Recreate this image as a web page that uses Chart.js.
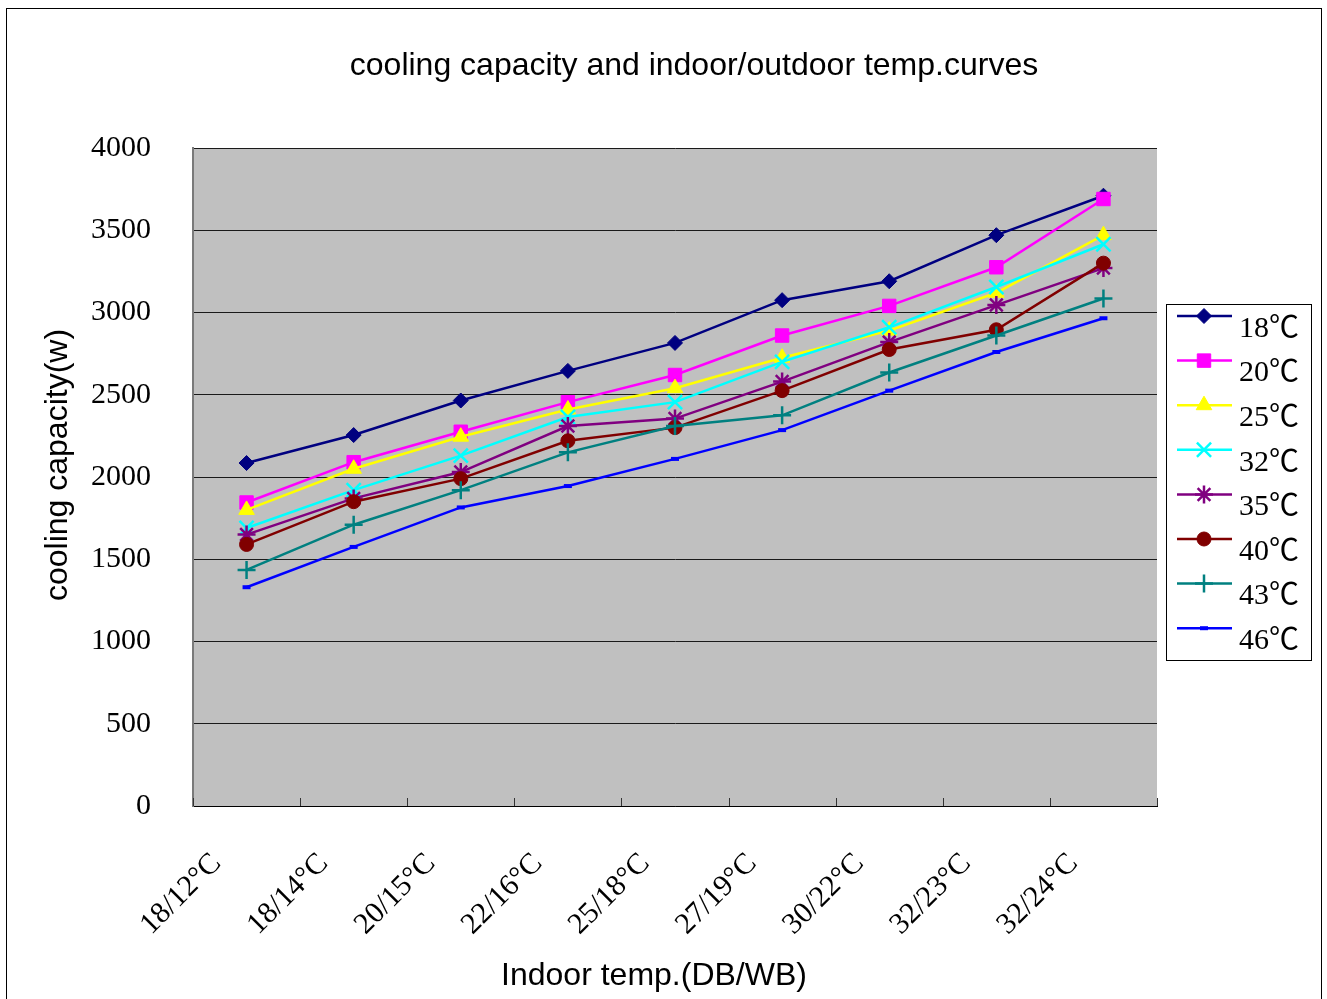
<!DOCTYPE html>
<html>
<head>
<meta charset="utf-8">
<script src="https://cdn.jsdelivr.net/npm/chart.js@4/dist/chart.umd.min.js"></script>
<style>
  html, body { margin: 0; padding: 0; background: #fff; }
  #c { display: block; }
</style>
</head>
<body>
<canvas id="c" width="1327" height="999"></canvas>
<script>
// ---- data ----
const chartTitle = 'cooling capacity and indoor/outdoor temp.curves';
const xAxisTitle = 'Indoor temp.(DB/WB)';
const yAxisTitle = 'cooling capacity(w)';
const categories = ['18/12°C', '18/14°C', '20/15°C', '22/16°C', '25/18°C', '27/19°C', '30/22°C', '32/23°C', '32/24°C'];
const seriesNames = ['18℃', '20℃', '25℃', '32℃', '35℃', '40℃', '43℃', '46℃'];
const out18 = [2085, 2255, 2465, 2645, 2815, 3075, 3190, 3470, 3710];
const out20 = [1845, 2090, 2275, 2455, 2620, 2860, 3040, 3275, 3690];
const out25 = [1800, 2050, 2245, 2410, 2540, 2725, 2890, 3120, 3470];
const out32 = [1690, 1920, 2130, 2365, 2455, 2700, 2910, 3155, 3415];
const out35 = [1650, 1870, 2030, 2310, 2355, 2580, 2820, 3045, 3270];
const out40 = [1590, 1850, 1990, 2220, 2300, 2525, 2775, 2895, 3300];
const out43 = [1435, 1710, 1920, 2150, 2310, 2375, 2635, 2860, 3085];
const out46 = [1330, 1575, 1815, 1945, 2110, 2285, 2525, 2760, 2965];
const yTicks = [0, 500, 1000, 1500, 2000, 2500, 3000, 3500, 4000];
const seriesValues = [out18, out20, out25, out32, out35, out40, out43, out46];

// ---- styles ----
const colors = ['#000080', '#FF00FF', '#FFFF00', '#00FFFF', '#800080', '#800000', '#008080', '#0000FF'];
const markers = [
  { style: 'rectRot', radius: 7.5, bw: 1, fill: true },
  { style: 'rect', radius: 9.5, bw: 1, fill: true },
  { style: 'triangle', radius: 9, bw: 1, fill: true },
  { style: 'crossRot', radius: 10, bw: 2.5, fill: false },
  { style: 'star', radius: 9, bw: 2.5, fill: false },
  { style: 'circle', radius: 7, bw: 1, fill: true },
  { style: 'cross', radius: 9, bw: 2.5, fill: false },
  { style: 'line', radius: 4, bw: 4, fill: false }
];
const serifFont = '"Liberation Serif", "Times New Roman", "Noto Sans CJK SC", serif';
const sansFont = '"Liberation Sans", Arial, sans-serif';

const datasets = seriesValues.map((vals, i) => ({
  label: seriesNames[i],
  data: vals,
  borderColor: colors[i],
  backgroundColor: colors[i],
  borderWidth: 2.5,
  tension: 0,
  fill: false,
  order: -i,
  pointStyle: markers[i].style,
  pointRadius: markers[i].radius,
  pointHoverRadius: markers[i].radius,
  pointBorderWidth: markers[i].bw,
  pointBackgroundColor: colors[i],
  pointBorderColor: colors[i]
}));

const decorPlugin = {
  id: 'decor',
  beforeDraw(chart) {
    const ctx = chart.ctx;
    const a = chart.chartArea;
    ctx.save();
    ctx.fillStyle = '#ffffff';
    ctx.fillRect(0, 0, chart.width, chart.height);
    ctx.strokeStyle = '#000000';
    ctx.lineWidth = 1;
    ctx.strokeRect(6.5, 8.5, 1315, 1010);
    ctx.fillStyle = '#C0C0C0';
    ctx.fillRect(a.left, a.top, a.right - a.left, a.bottom - a.top);
    ctx.restore();
  },
  afterDraw(chart) {
    const ctx = chart.ctx;
    const a = chart.chartArea;
    const xs = chart.scales.x;
    ctx.save();
    // inward tick marks at category boundaries
    ctx.strokeStyle = '#333333';
    ctx.lineWidth = 1;
    for (let i = 0; i <= categories.length; i++) {
      const px = Math.round(xs.getPixelForValue(i - 0.5)) + 0.5;
      ctx.beginPath();
      ctx.moveTo(px, a.bottom);
      ctx.lineTo(px, a.bottom - 8);
      ctx.stroke();
    }
    // titles
    ctx.fillStyle = '#000000';
    ctx.font = '32px ' + sansFont;
    ctx.textAlign = 'center';
    ctx.textBaseline = 'middle';
    ctx.fillText(chartTitle, 694, 66);
    ctx.fillText(xAxisTitle, 654, 976);
    ctx.save();
    ctx.translate(58, 465);
    ctx.rotate(-Math.PI / 2);
    ctx.fillText(yAxisTitle, 0, 0);
    ctx.restore();
    // legend
    const lx = 1166.5, ly = 304.5, lw = 145, lh = 356;
    ctx.fillStyle = '#ffffff';
    ctx.fillRect(lx, ly, lw, lh);
    ctx.strokeStyle = '#000000';
    ctx.lineWidth = 1;
    ctx.strokeRect(lx, ly, lw, lh);
    const step = 44.6;
    chart.data.datasets.forEach((ds, i) => {
      const y = 316 + i * step;
      ctx.strokeStyle = ds.borderColor;
      ctx.lineWidth = 2.5;
      ctx.beginPath();
      ctx.moveTo(1177, y);
      ctx.lineTo(1232, y);
      ctx.stroke();
      ctx.fillStyle = ds.pointBackgroundColor;
      ctx.strokeStyle = ds.pointBorderColor;
      ctx.lineWidth = ds.pointBorderWidth;
      Chart.helpers.drawPoint(ctx, {
        pointStyle: ds.pointStyle,
        radius: ds.pointRadius,
        borderWidth: ds.pointBorderWidth,
        rotation: 0
      }, 1204, y);
      ctx.fillStyle = '#000000';
      ctx.font = '30px ' + serifFont;
      ctx.textAlign = 'left';
      ctx.textBaseline = 'middle';
      ctx.fillText(ds.label, 1239, y + 13);
    });
    ctx.restore();
  }
};

new Chart(document.getElementById('c'), {
  type: 'line',
  data: { labels: categories, datasets: datasets },
  options: {
    responsive: false,
    animation: false,
    devicePixelRatio: 1,
    layout: { padding: { top: 148, left: 0, right: 170, bottom: 0 } },
    plugins: {
      legend: { display: false },
      title: { display: false },
      tooltip: { enabled: false }
    },
    scales: {
      x: {
        type: 'category',
        offset: true,
        grid: { display: false, drawTicks: false },
        border: { display: true, color: '#000000', width: 1 },
        ticks: {
          autoSkip: false,
          maxRotation: 45,
          minRotation: 45,
          padding: 40,
          labelOffset: -30,
          color: '#000000',
          font: { family: serifFont, size: 30 }
        },
        afterFit(scale) { scale.height = 193; }
      },
      y: {
        min: 0,
        max: 4000,
        afterBuildTicks(scale) { scale.ticks = yTicks.map(v => ({ value: v })); },
        grid: { color: '#1a1a1a', lineWidth: 1, drawTicks: false },
        border: { display: true, color: '#7a7a7a', width: 2 },
        ticks: {
          padding: 42,
          color: '#000000',
          font: { family: serifFont, size: 30 },
          callback: (v) => String(v)
        },
        afterFit(scale) { scale.width = 193; }
      }
    }
  },
  plugins: [decorPlugin]
});
</script>
</body>
</html>
